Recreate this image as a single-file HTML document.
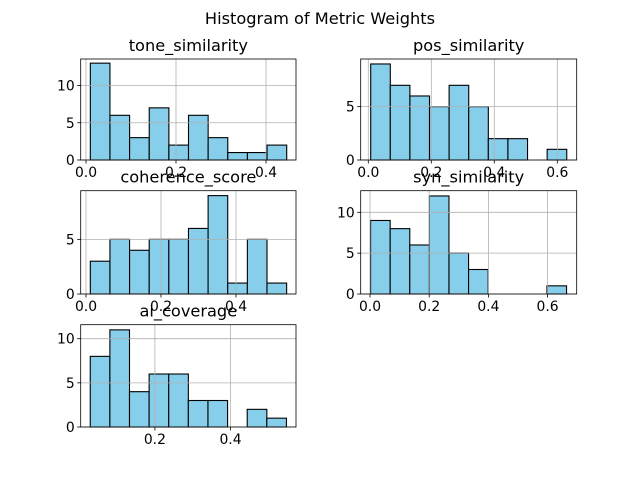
<!DOCTYPE html>
<html><head><meta charset="utf-8"><style>
body{margin:0;background:#fff}
svg text{font-family:"DejaVu Sans","Liberation Sans",sans-serif;fill:#000}
</style></head><body>
<svg id="c" width="640" height="480" xmlns="http://www.w3.org/2000/svg">
<text x="320" y="24" font-size="16.2" text-anchor="middle">Histogram of Metric Weights</text>
</svg>
<script>
const names = ["tone_similarity","pos_similarity","coherence_score","syn_similarity","ai_coverage"];
const toneCounts = [13,6,3,7,2,6,3,1,1,2];
const posCounts = [9,7,6,5,7,5,2,2,0,1];
const cohCounts = [3,5,4,5,5,6,9,1,5,1];
const synCounts = [9,8,6,12,5,3,0,0,0,1];
const aiCounts = [8,11,4,6,6,3,3,0,2,1];
const binRanges = [[0.0096,0.446],[0.0076,0.63],[0.0115,0.535],[0.002,0.664],[0.029,0.548]];
const xTicks = [[0,0.2,0.4],[0,0.2,0.4,0.6],[0,0.2,0.4],[0,0.2,0.4,0.6],[0.2,0.4]];
const yTicks = [[0,5,10],[0,5],[0,5],[0,5,10],[0,5,10]];
const allCounts = [toneCounts,posCounts,cohCounts,synCounts,aiCounts];
// layout (not data)
const boxes = [
 {l:80.7,r:296,t:59,b:160,x0:86,xs:450,ys:7.45},
 {l:360.7,r:576.7,t:59,b:160,x0:368.3,xs:315,ys:10.67},
 {l:80.7,r:296,t:190.7,b:294,x0:86,xs:375,ys:10.93},
 {l:360.7,r:576.7,t:190.7,b:294,x0:370,xs:296,ys:8.17},
 {l:80.7,r:296,t:324.7,b:427,x0:79.3,xs:378,ys:8.83}
];
const svg=document.getElementById('c');
const NS="http://www.w3.org/2000/svg";
function mk(tag,attrs,parent){const e=document.createElementNS(NS,tag);for(const k in attrs)e.setAttribute(k,attrs[k]);(parent||svg).appendChild(e);return e;}
names.forEach((nm,i)=>{
  const B=boxes[i];
  const g=mk('g',{});
  
  
  const X=v=>B.x0+v*B.xs, Y=v=>B.b-v*B.ys;
  const counts=allCounts[i], [lo,hi]=binRanges[i], w=(hi-lo)/counts.length;
  counts.forEach((c,j)=>{
    if(c<=0)return;
    const x1=X(lo+j*w), x2=X(lo+(j+1)*w);
    const r=mk('rect',{x:x1,y:Y(c),width:x2-x1,height:Y(0)-Y(c),fill:'#87ceeb',stroke:'#000','stroke-width':1.1},g);
    
    
  });
  xTicks[i].forEach(v=>{
    const x=X(v);
    mk('line',{x1:x,x2:x,y1:B.t,y2:B.b,stroke:'#b0b0b0','stroke-width':0.8},g);
    mk('line',{x1:x,x2:x,y1:B.b,y2:B.b+3.5,stroke:'#000','stroke-width':0.8},g);
    const t=mk('text',{x:x,y:B.b+17,'font-size':13.9,'text-anchor':'middle'},g);
    t.textContent=v.toFixed(1);
    
    
  });
  yTicks[i].forEach(v=>{
    const y=Y(v);
    mk('line',{x1:B.l,x2:B.r,y1:y,y2:y,stroke:'#b0b0b0','stroke-width':0.8},g);
    mk('line',{x1:B.l-3.5,x2:B.l,y1:y,y2:y,stroke:'#000','stroke-width':0.8},g);
    const t=mk('text',{x:B.l-6,y:y+5,'font-size':13.9,'text-anchor':'end'},g);
    t.textContent=String(v);
    
    
  });
  mk('rect',{x:B.l,y:B.t,width:B.r-B.l,height:B.b-B.t,fill:'none',stroke:'#000','stroke-width':0.8},g);
  const tt=mk('text',{x:(B.l+B.r)/2,y:B.t-8,'font-size':16.2,'text-anchor':'middle'},g);
  tt.textContent=nm;
  
  
});
</script>
</body></html>
